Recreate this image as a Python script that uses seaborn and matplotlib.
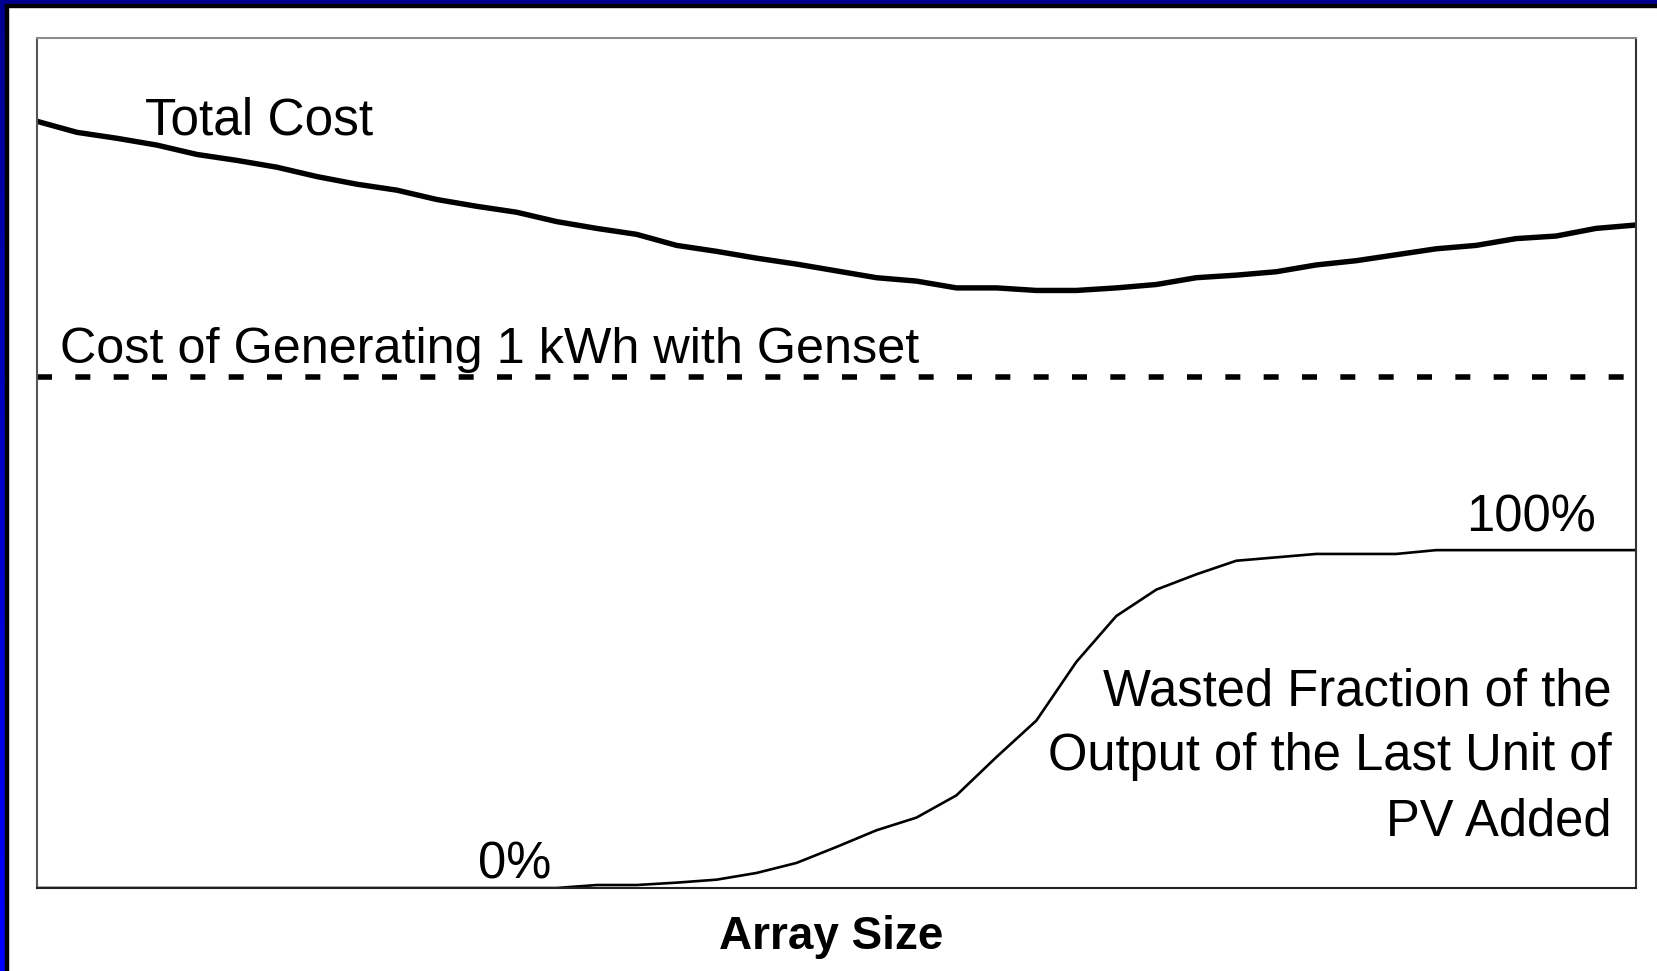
import numpy as np
import pandas as pd
import matplotlib
matplotlib.use("Agg")
import matplotlib.pyplot as plt
import seaborn as sns
from matplotlib.patches import Rectangle
from matplotlib.colors import LinearSegmentedColormap

# array size steps (arbitrary units) and curve values (axis 0-100)
array_size = list(range(41))
total_cost = [90.2, 88.9, 88.2, 87.4, 86.3, 85.6, 84.8, 83.7, 82.8, 82.1,
              81.0, 80.2, 79.5, 78.4, 77.6, 76.9, 75.6, 74.9, 74.1, 73.4,
              72.6, 71.8, 71.4, 70.6, 70.6, 70.3, 70.3, 70.6, 71.0, 71.8,
              72.1, 72.5, 73.3, 73.8, 74.5, 75.2, 75.6, 76.4, 76.7, 77.6, 78.0]
wasted_fraction = [0, 0, 0, 0, 0, 0, 0, 0, 0, 0,
                   0, 0, 0, 0, 0.35, 0.35, 0.63, 0.98, 1.77, 2.95,
                   4.83, 6.79, 8.28, 10.9, 15.4, 19.7, 26.6, 32.0, 35.1, 36.9,
                   38.5, 38.9, 39.3, 39.3, 39.3, 39.75, 39.75, 39.75, 39.75, 39.75, 39.75]
genset_cost = 60.1

df = pd.DataFrame({"size": array_size, "total": total_cost, "wasted": wasted_fraction})

sns.set_style("white")
plt.rcParams['font.family'] = ['Liberation Sans', 'DejaVu Sans']
plt.rcParams['text.color'] = 'black'
plt.rcParams['axes.labelcolor'] = 'black'

fig = plt.figure(figsize=(16.57, 9.71), dpi=100)
ax = fig.add_axes([37/1657, 83/971, 1599/1657, 850/971])

sns.lineplot(data=df, x="size", y="total", ax=ax, color="black", linewidth=3.9)
sns.lineplot(data=df, x="size", y="wasted", ax=ax, color="black", linewidth=1.9)
ax.axhline(genset_cost, color="black", linewidth=4.0, dashes=(2.7, 4.2))

ax.set_xlim(0, 40)
ax.set_ylim(0, 100)
ax.set_xticks([])
ax.set_yticks([])
ax.set_ylabel("")
ax.set_xlabel("Array Size", fontsize=33, fontweight="bold")
ax.xaxis.set_label_coords(0.4964, -0.032)
ax.xaxis.label.set_va("top")

for side, c in [("top", "#8c8c8c"), ("left", "#555555"), ("right", "#333333"), ("bottom", "#222222")]:
    ax.spines[side].set_color(c)
    ax.spines[side].set_linewidth(1.5)

ax.text(2.7, 88.6, "Total Cost", fontsize=37, va="baseline", ha="left")
ax.text(0.58, 61.8, "Cost of Generating 1 kWh with Genset", fontsize=36.3, va="baseline", ha="left")
ax.text(39.0, 41.9, "100%", fontsize=36.5, va="baseline", ha="right")
ax.text(12.87, 1.1, "0%", fontsize=36.5, va="baseline", ha="right")
ax.text(39.39, 25.9, "Wasted Fraction of the\nOutput of the Last Unit of\nPV Added",
        fontsize=36.5, va="top", ha="right", multialignment="right", linespacing=1.41)

# slide frame: blue band on top and left with a thin black edge
bax = fig.add_axes([0, 0, 5/1657, 1])
bax.imshow(np.linspace(0, 1, 256).reshape(-1, 1), aspect="auto",
           cmap=LinearSegmentedColormap.from_list("frame", ["#000090", "#0000ff"]))
bax.axis("off")
fig.add_artist(Rectangle((5/1657, 0), 3/1657, 1 - 4/971, color="black", transform=fig.transFigure))
fig.add_artist(Rectangle((0, 1 - 4/971), 1, 4/971, color="#000090", transform=fig.transFigure))
fig.add_artist(Rectangle((5/1657, 1 - 7/971), 1, 3/971, color="black", transform=fig.transFigure))

plt.savefig("out.png", dpi=100)
plt.close()
